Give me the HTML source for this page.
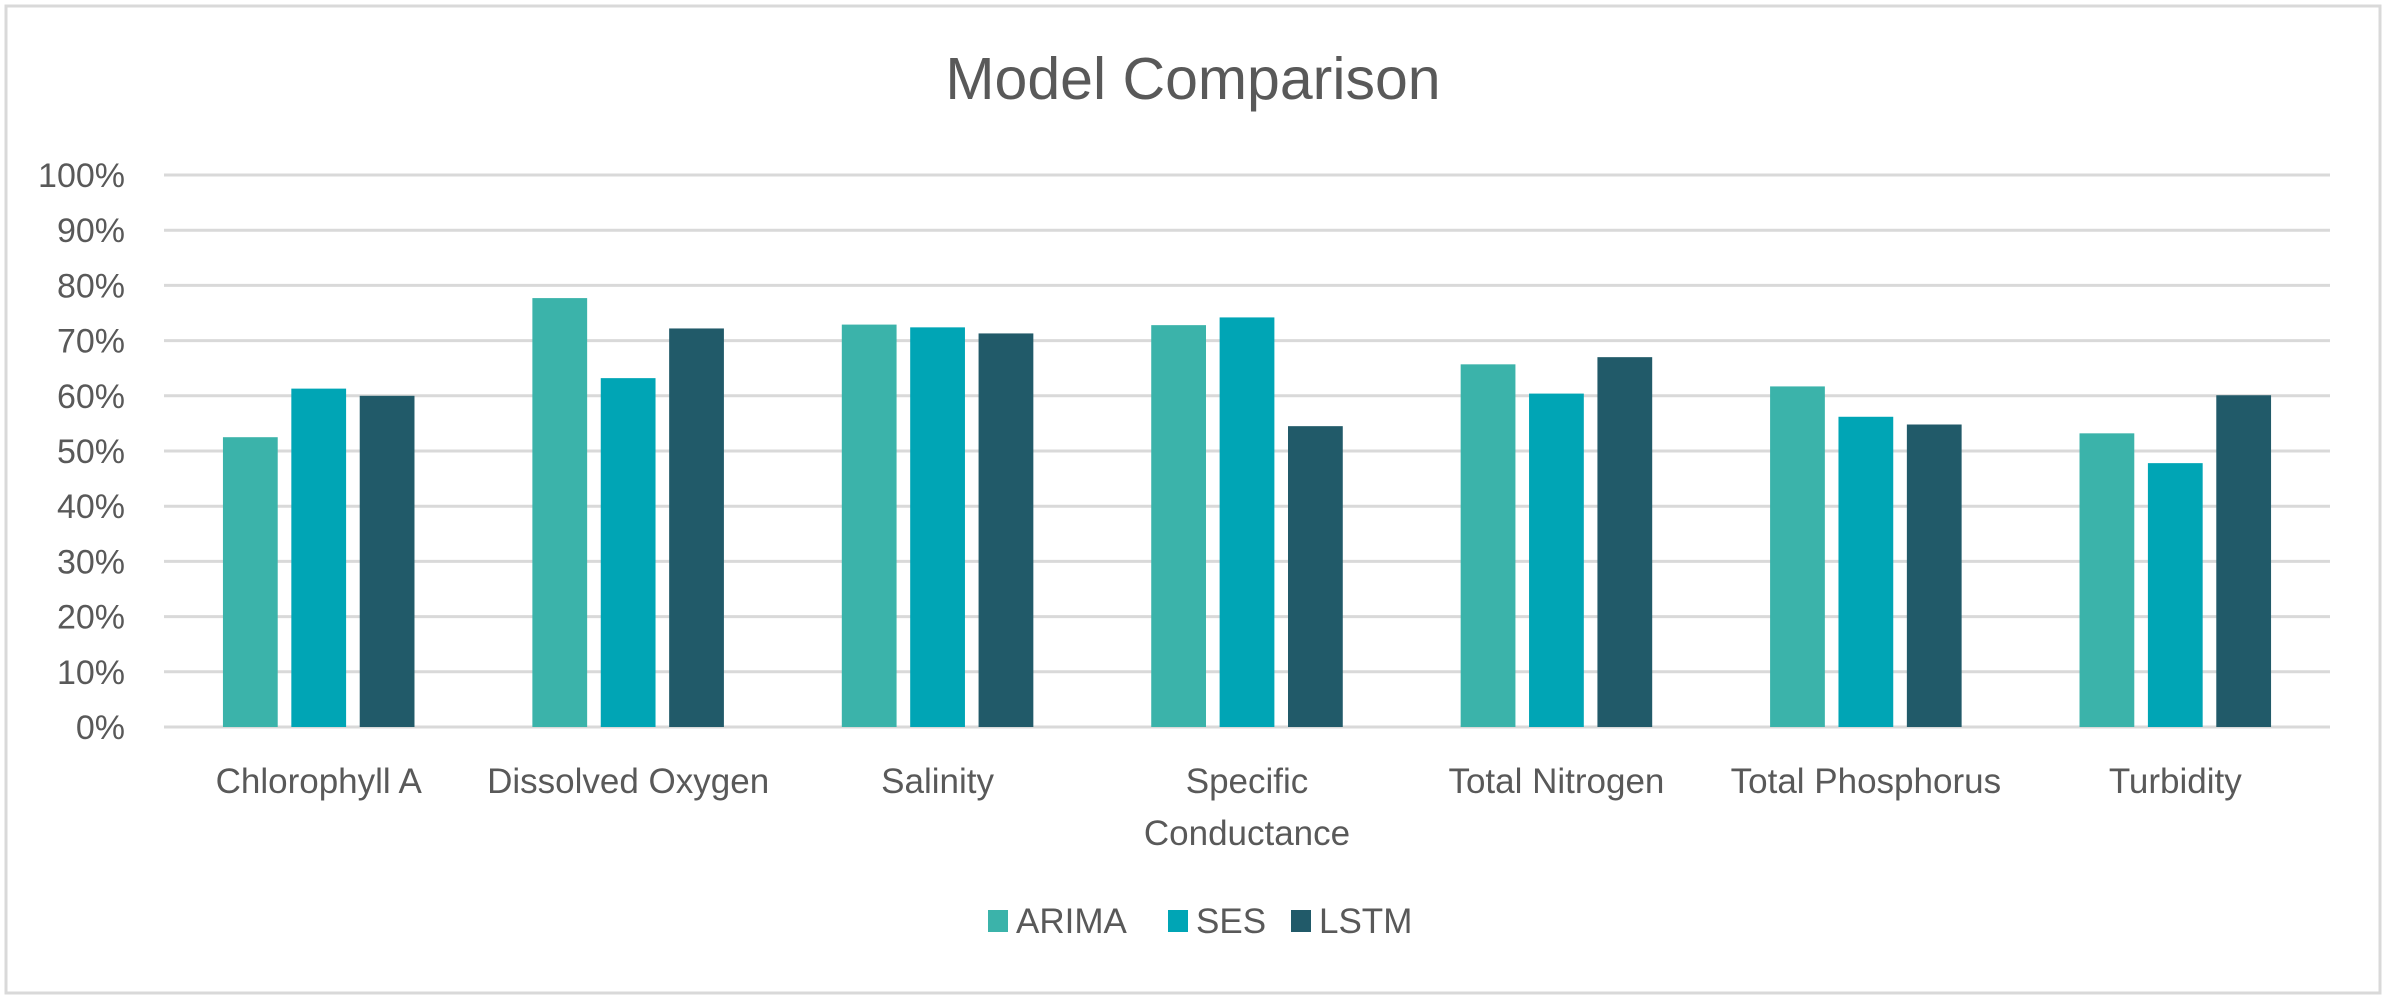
<!DOCTYPE html>
<html><head><meta charset="utf-8"><style>
html,body{margin:0;padding:0;background:#fff;}
svg{display:block;font-family:"Liberation Sans",sans-serif;}
</style></head><body>
<svg id="chart" width="2387" height="999" viewBox="0 0 2387 999">
<rect x="6" y="6" width="2374" height="987" fill="#fff" stroke="#d9d9d9" stroke-width="3"/>
<text x="1193" y="99" text-anchor="middle" font-size="59" fill="#595959">Model Comparison</text>
<g id="grid"></g><g id="bars"></g><g id="xlabels"></g>
<g>
<rect x="988" y="910" width="20" height="22" fill="#3BB3AA"/>
<text x="1016" y="933" font-size="35" fill="#595959">ARIMA</text>
<rect x="1168" y="910" width="20" height="22" fill="#00A5B5"/>
<text x="1196" y="933" font-size="35" fill="#595959">SES</text>
<rect x="1291" y="910" width="20" height="22" fill="#215A69"/>
<text x="1319" y="933" font-size="35" fill="#595959">LSTM</text>
</g>
</svg>
<script>
const categories = [["Chlorophyll A"],["Dissolved Oxygen"],["Salinity"],["Specific","Conductance"],["Total Nitrogen"],["Total Phosphorus"],["Turbidity"]];
const arima = [52.5, 77.7, 72.9, 72.8, 65.7, 61.7, 53.2];
const ses = [61.3, 63.2, 72.4, 74.2, 60.4, 56.2, 47.8];
const lstm = [60.0, 72.2, 71.3, 54.5, 67.0, 54.8, 60.1];
const ticks = [0,10,20,30,40,50,60,70,80,90,100];

const NS = "http://www.w3.org/2000/svg";
const left = 164, right = 2330, y0 = 727, y100 = 175;
const yScale = v => y0 - (v / 100) * (y0 - y100);
const groupW = (right - left) / categories.length;
const xBand = i => left + i * groupW;
function mk(tag, attrs, parent){const e=document.createElementNS(NS,tag);for(const k in attrs)e.setAttribute(k,attrs[k]);parent.appendChild(e);return e;}
const grid = document.getElementById('grid');
ticks.forEach(t=>{
  const y = yScale(t);
  const l = mk('line',{x1:left,x2:right,y1:y,y2:y,stroke:'#d9d9d9','stroke-width':3},grid);
  
  
  const tx = mk('text',{x:125,y:y+12,'text-anchor':'end','font-size':34,fill:'#595959'},grid);
  tx.textContent = t + '%';
  
  
});
const series = [{n:'arima',d:arima,c:'#3BB3AA'},{n:'ses',d:ses,c:'#00A5B5'},{n:'lstm',d:lstm,c:'#215A69'}];
const bw = groupW * 0.177, step = groupW * 0.221;
const bars = document.getElementById('bars');
categories.forEach((cat,i)=>{
  const cx = xBand(i) + groupW/2;
  series.forEach((s,j)=>{
    const x = cx + (j-1)*step - bw/2;
    const y = yScale(s.d[i]);
    const r = mk('rect',{x:x,y:y,width:bw,height:y0-y,fill:s.c},bars);
    
    
  });
  const lab = mk('text',{x:cx,'text-anchor':'middle','font-size':35,fill:'#595959'},document.getElementById('xlabels'));
  
  
  cat.forEach((line,k)=>{const ts=mk('tspan',{x:cx,y:793+k*52},lab);ts.textContent=line;});
});
</script>
</body></html>
